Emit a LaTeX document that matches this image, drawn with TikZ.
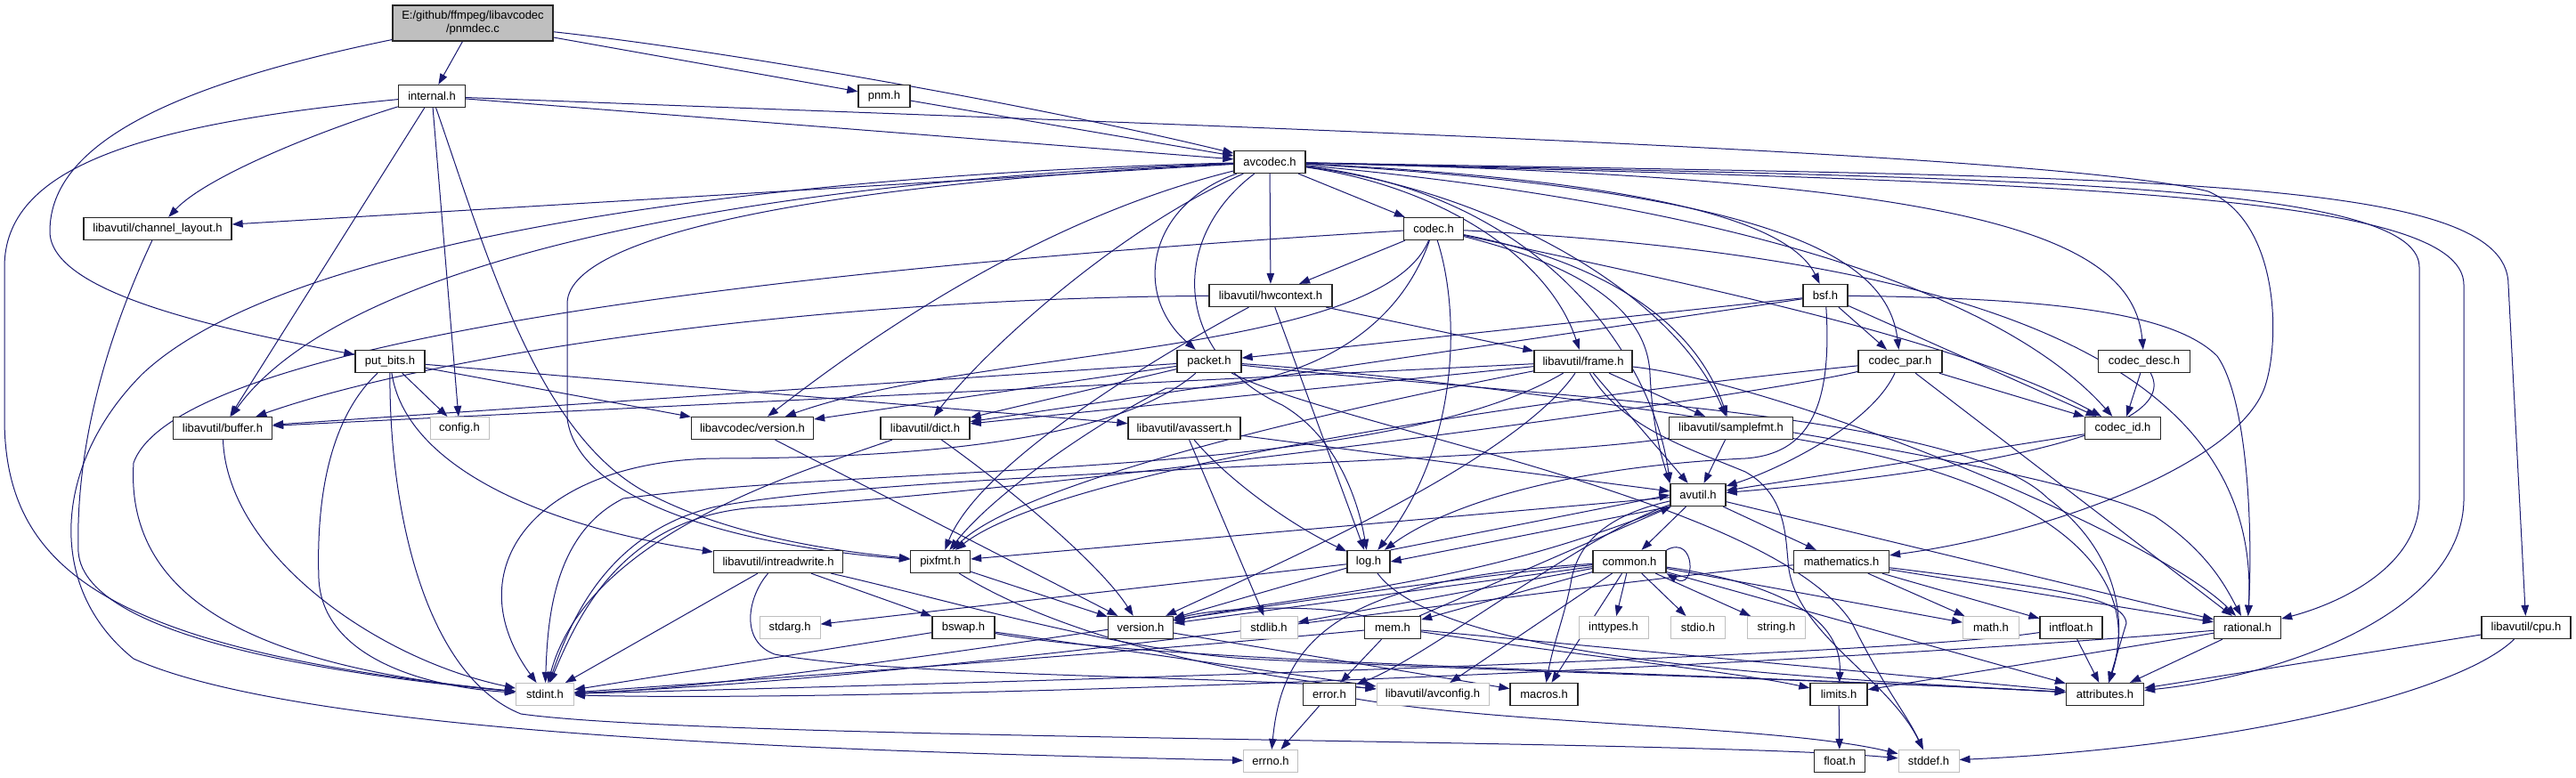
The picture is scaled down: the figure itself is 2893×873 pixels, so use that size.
\documentclass[tikz,border=0pt]{standalone}
\usepackage{fontspec}
\setmainfont{Liberation Sans}
\usetikzlibrary{arrows.meta,backgrounds}
\definecolor{edgeblue}{HTML}{191970}
\definecolor{extgray}{HTML}{BFBFBF}
\begin{document}
\begin{tikzpicture}[x=1pt,y=-1pt,
  hdr/.style={draw=black!85, line width=1.3pt, fill=white, minimum height=25pt, inner sep=0pt, font=\fontsize{13}{15}\selectfont},
  ext/.style={hdr, draw=extgray, line width=1pt},
  rootnode/.style={hdr, fill=extgray, minimum height=40pt, align=center},
  e/.style={draw=edgeblue, line width=1pt, -{Triangle[length=12pt,width=8.5pt]}},
]
\useasboundingbox (0,0) rectangle (2893,873);
% nodes
\node[rootnode, minimum width=180pt] (pnmdec) at (531,26) {E:/github/ffmpeg/libavcodec\\/pnmdec.c};
\node[hdr, minimum width=75pt] (internal) at (485,108) {internal.h};
\node[hdr, minimum width=58pt] (pnm) at (993,108) {pnm.h};
\node[hdr, minimum width=80pt] (avcodec) at (1426,182) {avcodec.h};
\node[hdr, minimum width=166pt] (chl) at (177,257) {libavutil/channel\_layout.h};
\node[hdr, minimum width=67pt] (codec) at (1610,257) {codec.h};
\node[hdr, minimum width=138pt] (hwc) at (1427,332) {libavutil/hwcontext.h};
\node[hdr, minimum width=50pt] (bsf) at (2050,332) {bsf.h};
\node[hdr, minimum width=78pt] (putbits) at (438,406) {put\_bits.h};
\node[hdr, minimum width=72pt] (packet) at (1358,406) {packet.h};
\node[hdr, minimum width=110pt] (frame) at (1778,406) {libavutil/frame.h};
\node[hdr, minimum width=94pt] (cpar) at (2134,406) {codec\_par.h};
\node[hdr, minimum width=103pt] (cdesc) at (2408,406) {codec\_desc.h};
\node[hdr, minimum width=111pt] (buffer) at (250,481) {libavutil/buffer.h};
\node[ext, minimum width=66pt] (config) at (516,481) {config.h};
\node[hdr, minimum width=137pt] (lavcver) at (845,481) {libavcodec/version.h};
\node[hdr, minimum width=100pt] (dict) at (1039,481) {libavutil/dict.h};
\node[hdr, minimum width=126pt] (avassert) at (1330,481) {libavutil/avassert.h};
\node[hdr, minimum width=139pt] (sfmt) at (1944,481) {libavutil/samplefmt.h};
\node[hdr, minimum width=85pt] (cid) at (2384,481) {codec\_id.h};
\node[hdr, minimum width=62pt] (avutil) at (1907,556) {avutil.h};
\node[hdr, minimum width=145pt] (irw) at (874,631) {libavutil/intreadwrite.h};
\node[hdr, minimum width=67pt] (pixfmt) at (1056,631) {pixfmt.h};
\node[hdr, minimum width=48pt] (log) at (1537,631) {log.h};
\node[hdr, minimum width=82pt] (common) at (1830,631) {common.h};
\node[hdr, minimum width=107pt] (mathh) at (2068,631) {mathematics.h};
\node[ext, minimum width=68pt] (stdarg) at (887,705) {stdarg.h};
\node[hdr, minimum width=70pt] (bswap) at (1082,705) {bswap.h};
\node[hdr, minimum width=73pt] (ver) at (1281,705) {version.h};
\node[ext, minimum width=64pt] (stdlib) at (1425,705) {stdlib.h};
\node[hdr, minimum width=63pt] (mem) at (1564,705) {mem.h};
\node[ext, minimum width=78pt] (inttypes) at (1812,705) {inttypes.h};
\node[ext, minimum width=61pt] (stdio) at (1907,705) {stdio.h};
\node[ext, minimum width=65pt] (stringh) at (1995,705) {string.h};
\node[ext, minimum width=63pt] (math) at (2236,705) {math.h};
\node[hdr, minimum width=70pt] (intfloat) at (2326,705) {intfloat.h};
\node[hdr, minimum width=75pt] (rational) at (2524,705) {rational.h};
\node[hdr, minimum width=100pt] (cpu) at (2837,705) {libavutil/cpu.h};
\node[ext, minimum width=65pt] (stdint) at (612,780) {stdint.h};
\node[hdr, minimum width=59pt] (errorh) at (1493,780) {error.h};
\node[ext, minimum width=126pt] (avconfig) at (1609,780) {libavutil/avconfig.h};
\node[hdr, minimum width=76pt] (macros) at (1734,780) {macros.h};
\node[hdr, minimum width=64pt] (limits) at (2065,780) {limits.h};
\node[hdr, minimum width=87pt] (attrib) at (2364,780) {attributes.h};
\node[ext, minimum width=61pt] (errno) at (1427,855) {errno.h};
\node[hdr, minimum width=57pt] (floath) at (2066,855) {float.h};
\node[ext, minimum width=68pt] (stddef) at (2166,855) {stddef.h};

\begin{scope}[on background layer]
\fill[white] (0,0) rectangle (2893,873);
% root
\draw[e] (pnmdec) -- (internal);
\draw[e] (pnmdec) -- (pnm);
\draw[e] (pnmdec) .. controls (800,55) and (1150,115) .. (avcodec);
\draw[e] (pnmdec) .. controls (170,100) and (56,170) .. (56,260) .. controls (56,330) and (250,370) .. (putbits);
\draw[e] (pnm) -- (avcodec);
% internal
\draw[e] (internal) -- (avcodec);
\draw[e] (internal) .. controls (1300,140) and (2300,170) .. (2480,215) .. controls (2560,250) and (2560,380) .. (2545,430) .. controls (2520,520) and (2300,600) .. (mathh);
\draw[e] (internal) .. controls (350,150) and (230,200) .. (chl);
\draw[e] (internal) .. controls (150,140) and (5,190) .. (5,300) -- (5,470) .. controls (5,640) and (120,730) .. (stdint);
\draw[e] (internal) -- (buffer);
\draw[e] (internal) -- (config);
\draw[e] (internal) .. controls (545,280) and (600,480) .. (720,550) .. controls (820,605) and (950,620) .. (pixfmt);
% put_bits
\draw[e] (putbits) .. controls (370,470) and (355,560) .. (358,650) .. controls (362,740) and (480,772) .. (stdint);
\draw[e] (putbits) .. controls (437,580) and (480,760) .. (585,802) .. controls (800,832) and (1900,830) .. (stddef);
\draw[e] (putbits) -- (config);
\draw[e] (putbits) .. controls (455,520) and (600,590) .. (irw);
\draw[e] (putbits) -- (lavcver);
\draw[e] (putbits) -- (avassert);
% avcodec
\draw[e] (avcodec) -- (chl);
\draw[e] (avcodec) .. controls (900,195) and (330,260) .. (160,420) .. controls (60,520) and (50,660) .. (150,740) .. controls (350,830) and (1000,845) .. (errno);
\draw[e] (avcodec) .. controls (800,205) and (380,300) .. (buffer);
\draw[e] (avcodec) .. controls (950,205) and (640,260) .. (637,340) -- (637,470) .. controls (650,570) and (850,615) .. (pixfmt);
\draw[e] (avcodec) -- (codec);
\draw[e] (avcodec) -- (hwc);
\draw[e] (avcodec) .. controls (1290,230) and (1270,330) .. (packet);
\draw[e] (avcodec) .. controls (1250,260) and (1100,400) .. (dict);
\draw[e] (avcodec) .. controls (1150,250) and (950,400) .. (lavcver);
\draw[e] (avcodec) .. controls (1310,270) and (1320,400) .. (1440,455) .. controls (1500,490) and (1525,560) .. (log);
\draw[e] (avcodec) .. controls (1620,210) and (1740,290) .. (frame);
\draw[e] (avcodec) .. controls (1900,205) and (2015,260) .. (bsf);
\draw[e] (avcodec) .. controls (2000,215) and (2120,290) .. (cpar);
\draw[e] (avcodec) .. controls (2200,200) and (2395,260) .. (cdesc);
\draw[e] (avcodec) .. controls (1950,230) and (2250,330) .. (cid);
\draw[e] (avcodec) .. controls (1680,215) and (1880,330) .. (sfmt);
\draw[e] (avcodec) .. controls (1750,220) and (1860,420) .. (avutil.north west);
\draw[e] (avcodec) .. controls (2200,200) and (2717,200) .. (2717,300) -- (2717,560) .. controls (2717,640) and (2620,680) .. (rational);
\draw[e] (avcodec) .. controls (2300,205) and (2767,215) .. (2767,320) -- (2767,560) .. controls (2767,690) and (2560,760) .. (attrib);
\draw[e] (avcodec) .. controls (2400,200) and (2817,195) .. (2817,320) -- (cpu);
% channel_layout
\draw[e] (chl) .. controls (110,400) and (85,520) .. (88,620) .. controls (95,720) and (400,760) .. (stdint);
% codec
\draw[e] (codec) -- (hwc);
\draw[e] (codec) .. controls (900,300) and (200,380) .. (150,520) .. controls (140,680) and (300,750) .. (stdint);
\draw[e] (codec) .. controls (1550,400) and (1100,390) .. (lavcver);
\draw[e] (codec) .. controls (1560,400) and (1420,440) .. (1310,436) .. controls (1240,470) and (1120,550) .. (pixfmt);
\draw[e] (codec) .. controls (1640,350) and (1640,500) .. (log);
\draw[e] (codec) .. controls (1780,300) and (1850,350) .. (1853,420) .. controls (1856,480) and (1865,510) .. (avutil.north west);
\draw[e] (codec) .. controls (1830,300) and (1910,380) .. (sfmt);
\draw[e] (codec) .. controls (2250,290) and (2540,420) .. (rational);
\draw[e] (codec) .. controls (1900,320) and (2200,380) .. (cid);
% hwcontext
\draw[e] (hwc) .. controls (900,335) and (480,400) .. (buffer);
\draw[e] (hwc) -- (frame);
\draw[e] (hwc) -- (log);
\draw[e] (hwc) .. controls (1300,400) and (1100,520) .. (pixfmt);
% bsf
\draw[e] (bsf) -- (packet);
\draw[e] (bsf) -- (dict);
\draw[e] (bsf) -- (cpar);
\draw[e] (bsf) -- (cid);
\draw[e] (bsf) .. controls (2058,460) and (2030,510) .. (1960,515) .. controls (1750,525) and (1620,570) .. (log);
\draw[e] (bsf) .. controls (2300,335) and (2440,350) .. (2490,400) .. controls (2525,450) and (2530,600) .. (rational);
% packet
\draw[e] (packet) -- (buffer);
\draw[e] (packet) -- (lavcver);
\draw[e] (packet) -- (dict);
\draw[e] (packet) .. controls (1250,500) and (1000,515) .. (800,515) .. controls (600,520) and (510,640) .. (stdint);
\draw[e] (packet) .. controls (1500,480) and (1990,560) .. (2080,700) .. controls (2120,780) and (2140,800) .. (stddef);
\draw[e] (packet) .. controls (1700,445) and (2200,460) .. (2300,560) .. controls (2380,620) and (2390,700) .. (attrib);
\draw[e] (packet) .. controls (1700,430) and (2300,520) .. (2420,580) .. controls (2480,620) and (2500,660) .. (rational);
% frame
\draw[e] (frame) -- (avutil);
\draw[e] (frame) -- (sfmt);
\draw[e] (frame) -- (buffer);
\draw[e] (frame) -- (dict);
\draw[e] (frame) .. controls (1550,540) and (1000,520) .. (700,560) .. controls (620,600) and (615,700) .. (stdint);
\draw[e] (frame) .. controls (2000,430) and (2420,600) .. (rational);
\draw[e] (frame) .. controls (1500,460) and (1150,540) .. (pixfmt);
\draw[e] (frame) .. controls (1700,520) and (1420,640) .. (ver);
\draw[e] (frame) .. controls (1820,480) and (1900,505) .. (1960,530) .. controls (2005,555) and (2005,600) .. (2008,630) .. controls (2012,710) and (2120,760) .. (stddef);
% codec_par
\draw[e] (cpar) -- (cid);
\draw[e] (cpar) .. controls (2100,480) and (1990,530) .. (avutil);
\draw[e] (cpar) -- (rational);
\draw[e] (cpar) .. controls (1800,440) and (1200,520) .. (pixfmt);
\draw[e] (cpar) .. controls (1950,450) and (1100,560) .. (850,570) .. controls (700,580) and (650,690) .. (stdint);
% codec_desc
\draw[e] (cdesc) -- (cid);
\draw[e] (cdesc) .. controls (2460,500) and (2100,540) .. (avutil);
% mid rows
\draw[e] (buffer) .. controls (255,620) and (420,740) .. (stdint);
\draw[e] (lavcver) -- (ver);
\draw[e] (dict) .. controls (1150,560) and (1240,640) .. (ver);
\draw[e] (dict) .. controls (900,530) and (660,600) .. (stdint);
\draw[e] (avassert) -- (stdlib);
\draw[e] (avassert) .. controls (1380,540) and (1450,590) .. (log);
\draw[e] (avassert) -- (avutil);
\draw[e] (sfmt) -- (avutil);
\draw[e] (sfmt) .. controls (2300,540) and (2410,640) .. (attrib);
\draw[e] (sfmt) .. controls (1700,520) and (1000,530) .. (800,570) .. controls (680,600) and (640,700) .. (stdint);
\draw[e] (cid) -- (avutil);
% avutil
\draw[e] (avutil) -- (common);
\draw[e] (avutil) -- (mathh);
\draw[e] (avutil) -- (rational);
\draw[e] (avutil.south west) -- (log.east);
\draw[e] (log.north east) -- (avutil.west);
\draw[e] (avutil) -- (pixfmt);
\draw[e] (avutil) .. controls (1650,660) and (1480,665) .. (ver);
\draw[e] (avutil) .. controls (1780,600) and (1600,740) .. (errorh);
\draw[e] (avutil) .. controls (1820,575) and (1775,600) .. (1765,650) .. controls (1758,690) and (1745,720) .. (macros);
% intreadwrite
\draw[e] (irw) -- (stdint);
\draw[e] (irw) -- (bswap);
\draw[e] (irw) .. controls (840,670) and (830,720) .. (870,735) .. controls (1000,760) and (1400,760) .. (avconfig);
\draw[e] (irw) .. controls (1050,670) and (1250,730) .. (1400,740) .. controls (1700,755) and (2100,765) .. (attrib);
% pixfmt
\draw[e] (pixfmt) -- (ver);
\draw[e] (pixfmt) .. controls (1200,720) and (1400,760) .. (avconfig);
% log
\draw[e] (log) -- (stdarg);
\draw[e] (log) -- (ver);
\draw[e] (log) .. controls (1620,740) and (2000,760) .. (attrib);
% common
\draw[e] (common) -- (inttypes);
\draw[e] (common) -- (stdio);
\draw[e] (common) -- (stringh);
\draw[e] (common) -- (math);
\draw[e] (common) .. controls (1960,650) and (2070,680) .. (limits);
\draw[e] (common) -- (attrib);
\draw[e] (common) -- (macros);
\draw[e] (common) -- (avconfig);
\draw[e] (common) -- (mem);
\draw[e] (common) -- (ver);
\draw[e] (common) -- (stdlib);
\draw[e] (common) .. controls (1500,660) and (900,770) .. (stdint);
\draw[e] (common) .. controls (1500,650) and (1440,720) .. (errno);
\draw[e] (common.north east) .. controls (1905,600) and (1905,665) .. (common.south east);
% mem
\draw[e] (mem) -- (errorh);
\draw[e] (mem) .. controls (1300,730) and (900,760) .. (stdint);
\draw[e] (mem) .. controls (1800,740) and (1950,755) .. (limits);
\draw[e] (mem) -- (attrib);
\draw[e] (mem) -- (avutil);
\draw[e] (mem) .. controls (1500,680) and (1380,680) .. (ver);
% error
\draw[e] (errorh) -- (errno);
\draw[e] (errorh) .. controls (1700,815) and (2000,815) .. (stddef);
% mathematics
\draw[e] (mathh) -- (math);
\draw[e] (mathh) -- (intfloat);
\draw[e] (mathh) -- (rational);
\draw[e] (mathh) .. controls (2300,660) and (2385,670) .. (2388,700) -- (attrib);
\draw[e] (mathh) .. controls (1800,650) and (1100,760) .. (stdint);
% rational
\draw[e] (rational) -- (attrib);
\draw[e] (rational) -- (limits);
\draw[e] (rational) .. controls (2000,750) and (1000,790) .. (stdint);
% intfloat
\draw[e] (intfloat) -- (attrib);
\draw[e] (intfloat) .. controls (2100,740) and (1000,770) .. (stdint);
% cpu
\draw[e] (cpu) -- (attrib);
\draw[e] (cpu) .. controls (2760,780) and (2500,840) .. (stddef);
% misc
\draw[e] (ver) -- (macros);
\draw[e] (bswap) -- (stdint);
\draw[e] (bswap) -- (avconfig);
\draw[e] (bswap) .. controls (1300,745) and (1900,755) .. (attrib);
\draw[e] (limits) -- (floath);
\end{scope}
\end{tikzpicture}
\end{document}
